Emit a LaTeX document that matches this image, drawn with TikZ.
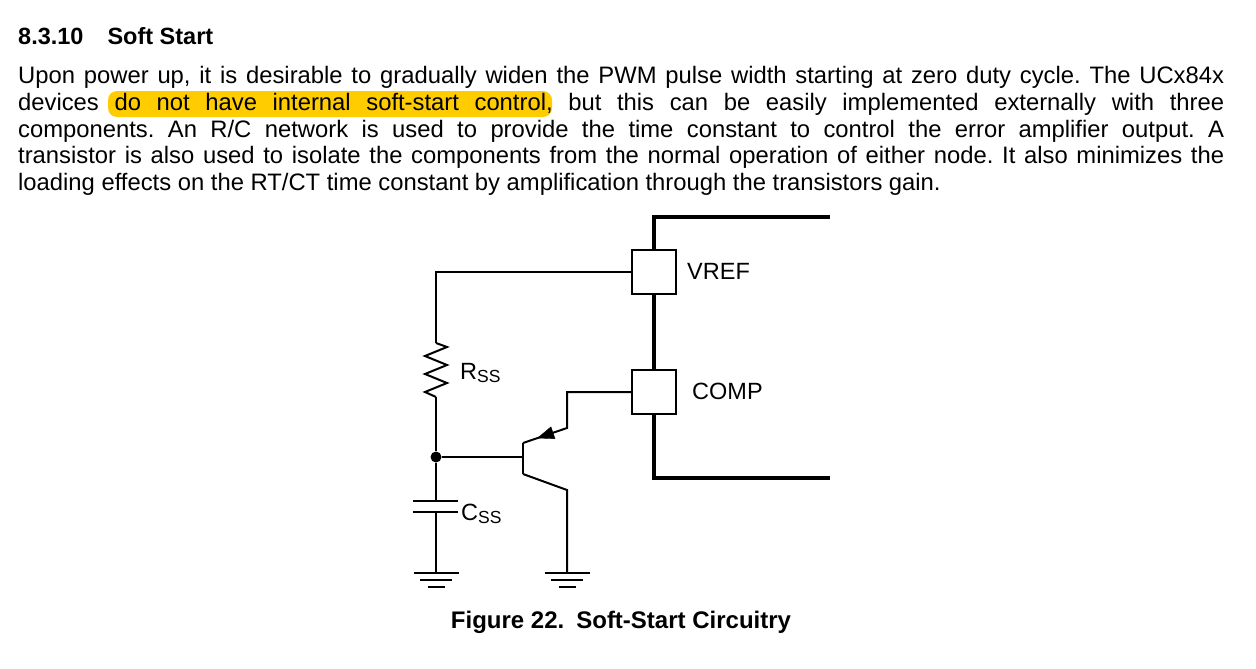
\documentclass[tikz,border=0pt]{standalone}
\usepackage{fontspec}
\setmainfont{Liberation Sans}
\usetikzlibrary{positioning,calc,arrows.meta}

\definecolor{hilite}{RGB}{255,204,0}

\tikzset{
  wire/.style={line width=2pt},
  chipline/.style={line width=4pt, line join=miter},
  pinbox/.style={draw, line width=2pt, fill=white, minimum width=44pt, minimum height=44pt, inner sep=0pt},
  bodyline/.style={anchor=base west, inner sep=0pt, font=\fontsize{23.8}{26.5}\selectfont},
  pinlabel/.style={font=\fontsize{23.5}{26}\selectfont, anchor=base west, inner sep=0pt},
  partlabel/.style={font=\fontsize{23.5}{26}\selectfont, anchor=base west, inner sep=0pt},
}
\newcommand{\subss}{\raisebox{-3pt}{\fontsize{17.5}{17.5}\selectfont SS}}
\newcommand{\fullline}[1]{\makebox[1206pt][s]{#1}}
\frenchspacing

\begin{document}
\begin{tikzpicture}[x=1pt,y=-1pt]
\useasboundingbox (0,0) rectangle (1256,669);

% heading and text
\node[anchor=base west, inner sep=0pt, font=\bfseries\fontsize{23.5}{26}\selectfont] (heading) at (18,45) {8.3.10\hspace{24pt}Soft Start};
\fill[hilite, rounded corners=9pt] (108,91) rectangle (552,117);
\node[bodyline] (line1) at (18,84) {\fullline{Upon power up, it is desirable to gradually widen the PWM pulse width starting at zero duty cycle. The UCx84x}};
\node[bodyline] (line2) at (18,110.5) {\fullline{devices do not have internal soft-start control, but this can be easily implemented externally with three}};
\node[bodyline] (line3) at (18,137) {\fullline{components. An R/C network is used to provide the time constant to control the error amplifier output. A}};
\node[bodyline] (line4) at (18,163.5) {\fullline{transistor is also used to isolate the components from the normal operation of either node. It also minimizes the}};
\node[bodyline] (line5) at (18,190) {loading effects on the RT/CT time constant by amplification through the transistors gain.};

% chip edge and pins
\node[pinbox] (vref) at (654,272) {};
\node[pinbox] (comp) at (654,392) {};
\coordinate (chiptop) at (830,217);
\coordinate (chipbot) at (830,478);
\draw[chipline] (chiptop) -| (vref.north);
\draw[chipline] (vref.south) -- (comp.north);
\draw[chipline] (comp.south) |- (chipbot);
\node[pinlabel] (vreflbl) at (687,279) {VREF};
\node[pinlabel] (complbl) at (692,399) {COMP};

% R/C network
\coordinate (rtop) at (436,343);
\coordinate (rbot) at (436,397);
\node[circle, fill, inner sep=0pt, minimum size=11pt] (jn) at (436,457) {};
\coordinate (cap1) at (436,501);
\coordinate (cap2) at (436,512);
\coordinate (gnd1) at (436,573);
\draw[wire] (vref.west) -| (rtop);
\draw[wire] (rtop) -- (447,347) -- (425,356) -- (447,365) -- (425,374) -- (447,383) -- (425,392) -- (rbot);
\draw[wire] (rbot) -- (jn) -- (cap1);
\draw[wire] (413,501) -- (458,501);
\draw[wire] (413,512) -- (458,512);
\draw[wire] (cap2) -- (gnd1);
\node[partlabel] (rss) at (460,379) {R\subss};
\node[partlabel] (css) at (461,520) {C\subss};

% transistor
\coordinate (bar1) at (523,443);
\coordinate (bar2) at (523,474);
\coordinate (emit) at (567,428);
\coordinate (coll) at (567,490);
\coordinate (gnd2) at (567,573);
\draw[wire] (jn) -- (bar1 |- jn);
\draw[wire] (bar1) -- (bar2);
\draw[wire] (bar1) -- (emit) |- (comp.west);
\draw[-{Triangle[length=17pt,width=13pt]}] (emit) -- ($(emit)!0.68!(bar1)$);
\draw[wire] (bar2) -- (coll) -- (gnd2);

% grounds
\foreach \g in {gnd1,gnd2} {
  \draw[wire] ($(\g)+(-22.5,0)$) -- ($(\g)+(22.5,0)$);
  \draw[wire] ($(\g)+(-16,7)$) -- ($(\g)+(16,7)$);
  \draw[wire] ($(\g)+(-8.5,14)$) -- ($(\g)+(8.5,14)$);
}

\node[anchor=base, inner sep=0pt, font=\bfseries\fontsize{24}{26}\selectfont] (caption) at (621,628) {Figure 22.\hspace{12pt}Soft-Start Circuitry};
\end{tikzpicture}
\end{document}
